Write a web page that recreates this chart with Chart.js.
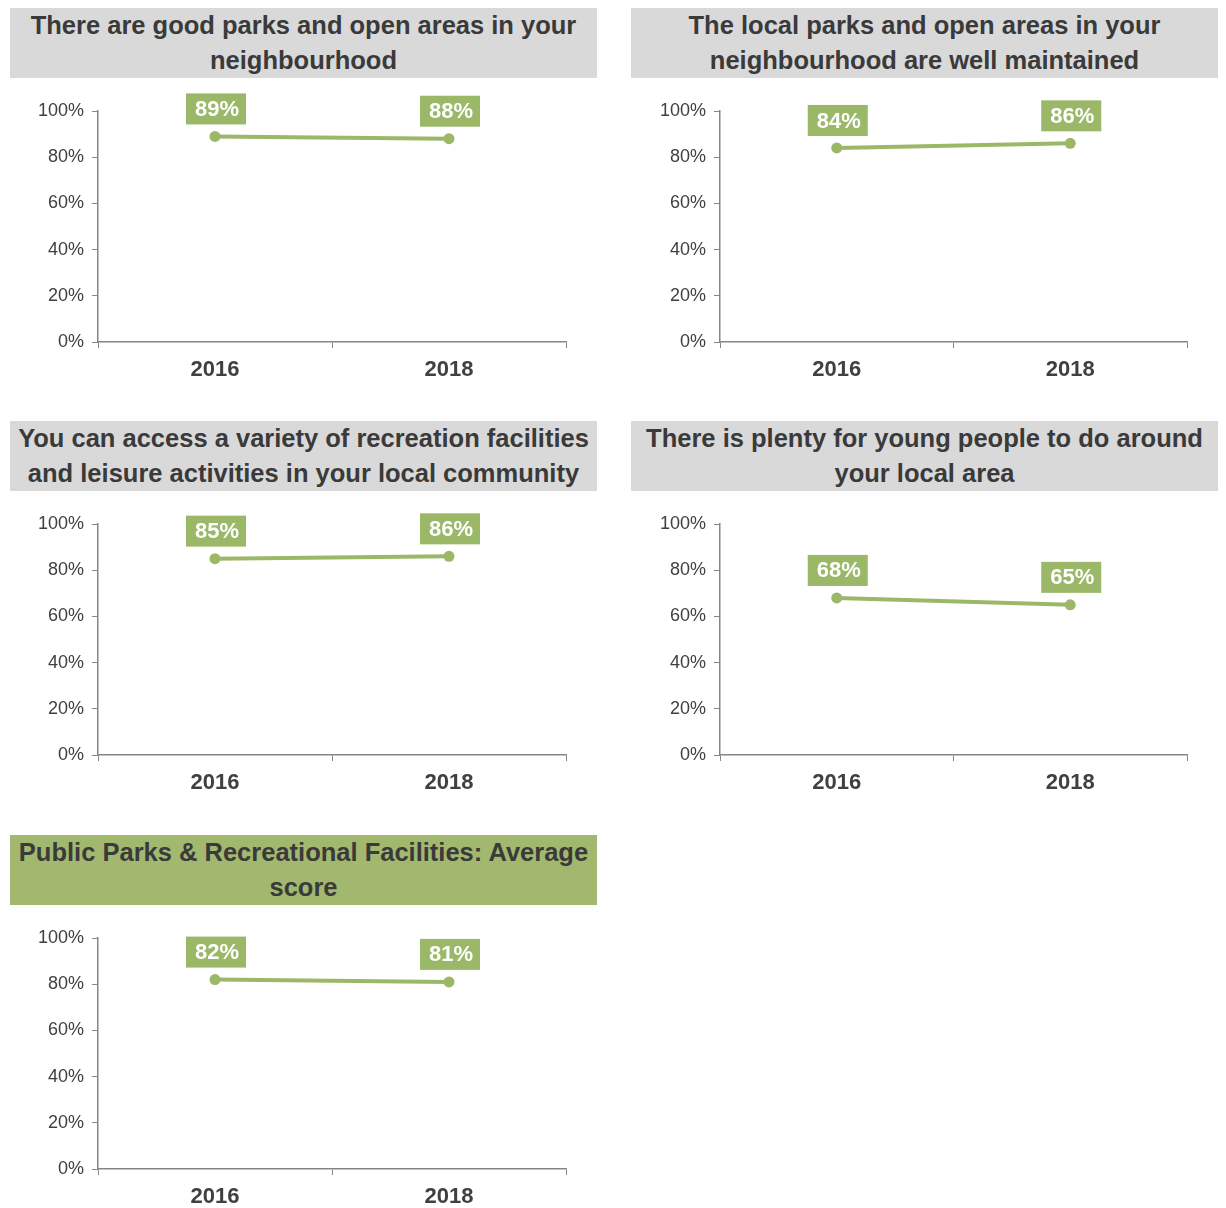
<!DOCTYPE html>
<html>
<head>
<meta charset="utf-8">
<script src="https://cdn.jsdelivr.net/npm/chart.js@4.4.0/dist/chart.umd.min.js"></script>
<style>
  body { margin: 0; background: #fff; width: 1226px; height: 1208px; position: relative; font-family: "Liberation Sans", Arial, sans-serif; }
  .ttl { position: absolute; width: 587px; height: 70px; background: #d9d9d9; color: #3a3a3a; font-weight: bold; font-size: 25.5px; line-height: 35px; text-align: center; white-space: nowrap; }
  .ttl.avg { background: #a2b86e; }
  .box { position: absolute; width: 587px; height: 320px; }
</style>
</head>
<body>
<div class="ttl" style="left:10px;top:8px">There are good parks and open areas in your<br>neighbourhood</div>
<div class="ttl" style="left:631px;top:8px">The local parks and open areas in your<br>neighbourhood are well maintained</div>
<div class="ttl" style="left:10px;top:421px">You can access a variety of recreation facilities<br>and leisure activities in your local community</div>
<div class="ttl" style="left:631px;top:421px">There is plenty for young people to do around<br>your local area</div>
<div class="ttl avg" style="left:10px;top:835px">Public Parks &amp; Recreational Facilities: Average<br>score</div>

<div class="box" style="left:10px;top:85px"><canvas id="c1"></canvas></div>
<div class="box" style="left:631px;top:85px"><canvas id="c2"></canvas></div>
<div class="box" style="left:10px;top:498px"><canvas id="c3"></canvas></div>
<div class="box" style="left:631px;top:498px"><canvas id="c4"></canvas></div>
<div class="box" style="left:10px;top:912px"><canvas id="c5"></canvas></div>

<script>
// survey years
var years = ['2016', '2018'];
// % agreeing, per statement
var goodParks = [89, 88];
var wellMaintained = [84, 86];
var varietyFacilities = [85, 86];
var youngPeople = [68, 65];
var averageScore = [82, 81];
var yTicks = [0, 20, 40, 60, 80, 100];

var green = '#9bb868';
var textCol = '#404040';
var axisCol = '#868686';

// draws the green value boxes above each point
var valueBoxes = {
  id: 'valueBoxes',
  afterDatasetsDraw: function(chart) {
    var ctx = chart.ctx;
    var meta = chart.getDatasetMeta(0);
    var vals = chart.data.datasets[0].data;
    ctx.save();
    ctx.font = 'bold 22px "Liberation Sans", Arial, sans-serif';
    ctx.textAlign = 'center';
    ctx.textBaseline = 'middle';
    meta.data.forEach(function(pt, i) {
      var txt = vals[i] + '%';
      var w = ctx.measureText(txt).width + 16;
      var h = 31;
      var bottom = pt.y - 12;
      ctx.fillStyle = green;
      ctx.fillRect(pt.x + 1 - w / 2, bottom - h, w, h);
      ctx.fillStyle = '#fff';
      ctx.fillText(txt, pt.x + 2, bottom - h / 2 + 1);
    });
    ctx.restore();
  }
};

function makeChart(id, values, yWidth) {
  new Chart(document.getElementById(id), {
    type: 'line',
    data: {
      labels: years,
      datasets: [{
        data: values,
        borderColor: green,
        backgroundColor: green,
        borderWidth: 4,
        pointRadius: 5.5,
        pointBackgroundColor: green,
        pointBorderWidth: 0,
        fill: false,
        tension: 0,
        clip: false
      }]
    },
    options: {
      responsive: true,
      maintainAspectRatio: false,
      animation: false,
      layout: { padding: { top: 26, right: 31, left: 0, bottom: 0 } },
      plugins: { legend: { display: false }, tooltip: { enabled: false } },
      scales: {
        x: {
          offset: true,
          grid: { offset: true, drawOnChartArea: false, tickLength: 6, color: axisCol, lineWidth: 1 },
          border: { color: axisCol, width: 1.5 },
          ticks: { color: textCol, padding: 9, font: { size: 22, weight: 'bold', family: '"Liberation Sans", Arial, sans-serif' } },
          afterFit: function(s) { s.height = 63; }
        },
        y: {
          min: 0,
          max: 100,
          afterBuildTicks: function(s) { s.ticks = yTicks.map(function(v) { return { value: v }; }); },
          grid: { drawOnChartArea: false, tickLength: 6, color: axisCol, lineWidth: 1 },
          border: { color: axisCol, width: 1.5 },
          ticks: {
            color: textCol,
            padding: 8,
            font: { size: 18, family: '"Liberation Sans", Arial, sans-serif' },
            callback: function(v) { return v + '%'; }
          },
          afterFit: function(s) { s.width = yWidth; }
        }
      }
    },
    plugins: [valueBoxes]
  });
}

makeChart('c1', goodParks, 88);
makeChart('c2', wellMaintained, 89);
makeChart('c3', varietyFacilities, 88);
makeChart('c4', youngPeople, 89);
makeChart('c5', averageScore, 88);
</script>
</body>
</html>
